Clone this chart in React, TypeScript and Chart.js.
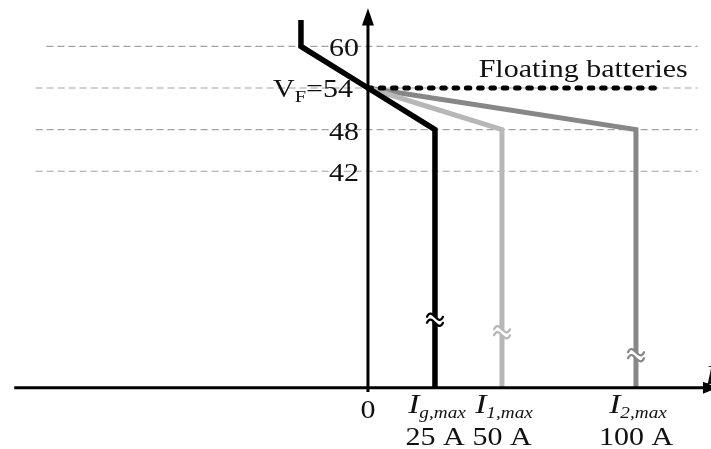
import { useEffect, useRef } from "react";
import { Chart, registerables } from "chart.js";

Chart.register(...registerables);

const FONT = '"Liberation Serif", "Times New Roman", "DejaVu Serif", serif';

// dashed reference voltages (V)
const gridVoltages = [60, 54, 48, 42];
const gridStartCurrent = [-120, -124, -124, -124];
const gridEndCurrent = 123;

// floating batteries (dotted)
const floatVoltage = 54;
const floatCurrent = [0, 110];

// I_g curve
const gCurrent = [-25, -25, 0, 25, 25];
const gVoltage = [63.8, 60, 54, 48, 10.8];
// I_1 curve
const c1Current = [0, 50, 50];
const c1Voltage = [54, 48, 10.8];
// I_2 curve
const c2Current = [0, 100, 100];
const c2Voltage = [54, 48, 10.8];

// break marks on vertical segments
const breakCurrent = [25, 50, 100];
const breakVoltage = [20.6, 18.8, 15.5];

// axis labels
const yTickValues = [60, 48, 42];
const currentSubLabels = ["g,max", "1,max", "2,max"];
const currentValueLabels = ["25 A", "50 A", "100 A"];
const axisVoltage = 10.8;

const COLORS = {
  g: "#000000",
  c1: "#b7b7b7",
  c2: "#878787",
  grid: "#a3a3a3",
};

const SX = 1.2;

function pts(xs: number[], ys: number[]) {
  return xs.map((x, i) => ({ x, y: ys[i] }));
}

function stretchedText(
  ctx: CanvasRenderingContext2D,
  parts: { t: string; font: string; dy: number }[],
  x: number,
  y: number,
  align: "left" | "right" | "center"
) {
  ctx.save();
  ctx.textAlign = "left";
  ctx.textBaseline = "alphabetic";
  let total = 0;
  const widths = parts.map((p) => {
    ctx.font = p.font;
    const w = ctx.measureText(p.t).width;
    total += w;
    return w;
  });
  let left = x;
  if (align === "right") left = x - total * SX;
  else if (align === "center") left = x - (total * SX) / 2;
  ctx.translate(left, y);
  ctx.scale(SX, 1);
  let cx = 0;
  parts.forEach((p, i) => {
    ctx.font = p.font;
    ctx.fillStyle = "#111";
    ctx.fillText(p.t, cx, p.dy);
    cx += widths[i];
  });
  ctx.restore();
}

function drawBreak(ctx: CanvasRenderingContext2D, x: number, y: number, color: string) {
  const w = 8;
  const a = 11;
  const g = 3;
  ctx.save();
  ctx.fillStyle = "#ffffff";
  ctx.beginPath();
  ctx.moveTo(x - w, y - g);
  ctx.bezierCurveTo(x - 3, y - a - g, x + 3, y + a - g, x + w, y - g);
  ctx.lineTo(x + w, y + g);
  ctx.bezierCurveTo(x + 3, y + a + g, x - 3, y - a + g, x - w, y + g);
  ctx.closePath();
  ctx.fill();
  ctx.strokeStyle = color;
  ctx.lineWidth = 2.2;
  ctx.lineCap = "round";
  [-g, g].forEach((o) => {
    ctx.beginPath();
    ctx.moveTo(x - w, y + o);
    ctx.bezierCurveTo(x - 3, y - a + o, x + 3, y + a + o, x + w, y + o);
    ctx.stroke();
  });
  ctx.restore();
}

const overlay = {
  id: "overlay",
  beforeDraw(chart: any) {
    const ctx = chart.ctx as CanvasRenderingContext2D;
    ctx.save();
    ctx.fillStyle = "#ffffff";
    ctx.fillRect(0, 0, chart.width, chart.height);
    ctx.restore();
  },
  afterDatasetsDraw(chart: any) {
    const ctx = chart.ctx as CanvasRenderingContext2D;
    const xs = chart.scales.x;
    const ys = chart.scales.y;
    const px = (v: number) => xs.getPixelForValue(v);
    const py = (v: number) => ys.getPixelForValue(v);

    // break marks
    const breakColors = [COLORS.g, COLORS.c1, COLORS.c2];
    breakCurrent.forEach((c, i) => drawBreak(ctx, px(c), py(breakVoltage[i]), breakColors[i]));

    // axes
    ctx.save();
    ctx.strokeStyle = "#000";
    ctx.fillStyle = "#000";
    ctx.lineWidth = 3;
    const x0 = px(0);
    const yAx = py(axisVoltage);
    ctx.beginPath();
    ctx.moveTo(px(-132), yAx);
    ctx.lineTo(px(127), yAx);
    ctx.stroke();
    ctx.beginPath();
    ctx.moveTo(px(130.5), yAx);
    ctx.lineTo(px(125), yAx - 6);
    ctx.lineTo(px(125), yAx + 6);
    ctx.closePath();
    ctx.fill();
    ctx.beginPath();
    ctx.moveTo(x0, py(axisVoltage - 0.6));
    ctx.lineTo(x0, py(63.5));
    ctx.stroke();
    ctx.beginPath();
    ctx.moveTo(x0, py(65.5));
    ctx.lineTo(x0 - 6, py(63.0));
    ctx.lineTo(x0 + 6, py(63.0));
    ctx.closePath();
    ctx.fill();
    ctx.restore();

    const main = `25px ${FONT}`;
    const sub = `17px ${FONT}`;
    const itMain = `italic 28px ${FONT}`;
    const itSub = `italic 16px ${FONT}`;

    yTickValues.forEach((v) => {
      stretchedText(ctx, [{ t: String(v), font: main, dy: 0 }], x0 - 9, py(v) + 10, "right");
    });
    stretchedText(
      ctx,
      [
        { t: "V", font: main, dy: 0 },
        { t: "F", font: sub, dy: 5 },
        { t: "=" + floatVoltage, font: main, dy: 0 },
      ],
      x0 - 15,
      py(floatVoltage) + 9,
      "right"
    );

    stretchedText(ctx, [{ t: "Floating batteries", font: main, dy: 0 }], px(41.3), py(floatVoltage) - 11, "left");

    stretchedText(ctx, [{ t: "0", font: main, dy: 0 }], x0, yAx + 30, "center");
    breakCurrent.forEach((c, i) => {
      stretchedText(
        ctx,
        [
          { t: "I", font: itMain, dy: 0 },
          { t: currentSubLabels[i], font: itSub, dy: 5 },
        ],
        px(c) + 2,
        yAx + 25,
        "center"
      );
      stretchedText(ctx, [{ t: currentValueLabels[i], font: main, dy: 0 }], px(c), yAx + 57, "center");
    });
    stretchedText(ctx, [{ t: "I", font: itMain, dy: 0 }], px(125.8), yAx - 4, "left");
  },
};

export default function App() {
  const ref = useRef<HTMLCanvasElement | null>(null);
  useEffect(() => {
    if (!ref.current) return;
    const gridSets = gridVoltages.map((v, i) => ({
      data: [
        { x: gridStartCurrent[i], y: v },
        { x: gridEndCurrent, y: v },
      ],
      borderColor: COLORS.grid,
      borderWidth: 1.2,
      borderDash: [7, 4],
      pointRadius: 0,
      order: 10,
    }));
    const chart = new Chart(ref.current, {
      type: "line",
      data: {
        datasets: [
          ...gridSets,
          {
            data: pts(c2Current, c2Voltage),
            borderColor: COLORS.c2,
            borderWidth: 5,
            pointRadius: 0,
            borderJoinStyle: "miter",
            order: 5,
          },
          {
            data: pts(c1Current, c1Voltage),
            borderColor: COLORS.c1,
            borderWidth: 5,
            pointRadius: 0,
            borderJoinStyle: "miter",
            order: 4,
          },
          {
            data: pts(floatCurrent, [floatVoltage, floatVoltage]),
            borderColor: "#000",
            borderWidth: 5,
            borderDash: [3.5, 8.8],
            borderCapStyle: "round",
            pointRadius: 0,
            order: 3,
          },
          {
            data: pts(gCurrent, gVoltage),
            borderColor: COLORS.g,
            borderWidth: 5.5,
            pointRadius: 0,
            borderJoinStyle: "miter",
            order: 1,
          },
        ] as any,
      },
      options: {
        animation: false,
        responsive: false,
        maintainAspectRatio: false,
        devicePixelRatio: 1,
        layout: { padding: 0 },
        plugins: { legend: { display: false }, tooltip: { enabled: false } },
        scales: {
          x: { type: "linear", min: -137.3, max: 128.0, display: false },
          y: { type: "linear", min: 1.98, max: 66.68, display: false },
        },
        elements: { line: { tension: 0 } },
      },
      plugins: [overlay],
    });
    return () => chart.destroy();
  }, []);
  return (
    <div style={{ position: "absolute", left: 0, top: 0, width: 711, height: 449 }}>
      <canvas ref={ref} width={711} height={449} style={{ display: "block" }} />
    </div>
  );
}
